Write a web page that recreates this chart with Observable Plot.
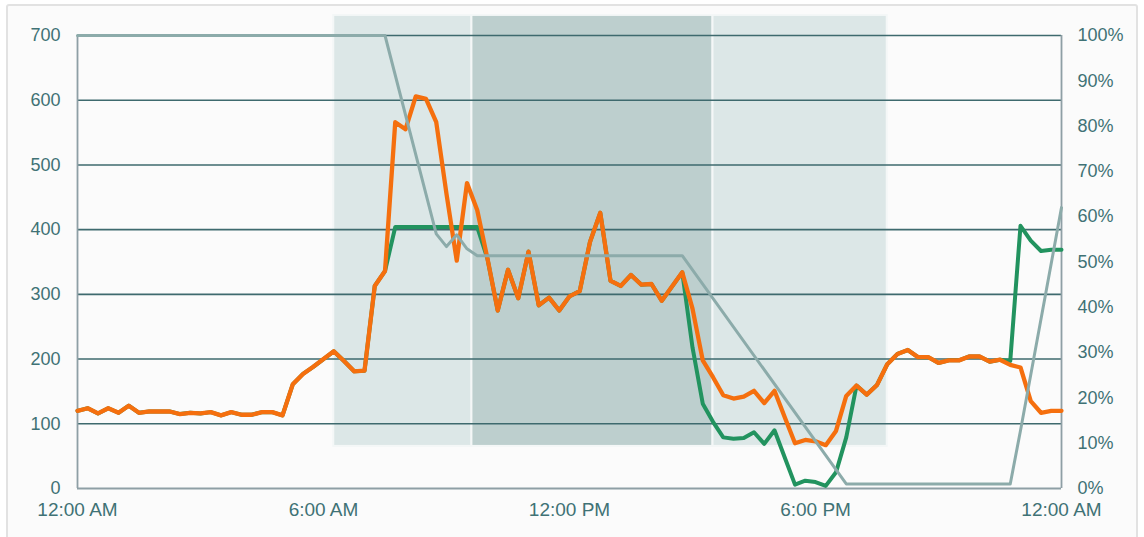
<!DOCTYPE html>
<html><head><meta charset="utf-8">
<script src="https://cdn.jsdelivr.net/npm/d3@7"></script>
<script src="https://cdn.jsdelivr.net/npm/@observablehq/plot@0.6"></script>
<style>
body{margin:0;background:#fff;}
#frame{position:absolute;left:6px;top:4px;width:1132px;height:540px;border:2px solid #e2e2e2;border-radius:3px;background:#fbfbfb;box-sizing:border-box;}
#chart{position:absolute;left:0;top:0;}
</style></head><body><div id="frame"></div><div id="chart"></div>
<script>
// 15-minute samples, index i -> i * 0.25 hours after midnight
const stepHours = 0.25;
const orangeValues = [120,124,116,124,117,128,117,119,119,119,115,117,116,118,113,118,114,114,118,118,113,161,177,188,200,212,197,181,182,313,336,566,555,606,602,566,455,352,472,430,355,275,338,294,366,283,295,275,297,305,381,426,321,313,330,315,316,290,312,334,278,198,172,144,139,142,151,132,151,110,70,75,73,67,89,143,159,145,160,192,208,214,203,203,194,198,198,204,204,196,199,191,187,135,117,120,120];
const greenValues = [120,124,116,124,117,128,117,119,119,119,115,117,116,118,113,118,114,114,118,118,113,161,177,188,200,212,197,181,182,313,336,404,404,404,404,404,404,404,404,404,355,275,338,294,366,283,295,275,297,305,381,426,321,313,330,315,316,290,312,334,218,131,103,79,77,78,87,69,90,48,6,12,10,4,25,79,159,145,160,192,208,214,203,203,194,198,198,204,204,196,199,197,406,383,367,369,369];
// percentage series (right axis), breakpoints
const pctHours  = [0,   7.5, 8.75, 9,    9.25, 9.5,  9.75, 14.75, 18.75, 22.75, 23,   24];
const pctValues = [100, 100, 56.2, 53.4, 56,   52.9, 51.4, 51.4,  1,     1,     12.8, 62];
// shaded periods
const bandStarts = [6.25, 9.62, 15.5];
const bandEnds   = [9.62, 15.5, 19.75];
const bandFills  = ["#dce7e7", "#bdcfce", "#dce7e7"];
const bandLow = 65, bandHigh = 731;
const leftTicks  = [0,100,200,300,400,500,600,700];
const gridTicks  = [100,200,300,400,500,600,700];
const rightTicks = [0,10,20,30,40,50,60,70,80,90,100];
const xTickHours  = [0,6,12,18,24];
const xTickLabels = ["12:00 AM","6:00 AM","12:00 PM","6:00 PM","12:00 AM"];

const pctScale = 7; // 100% == 700 on the left scale

const orange = orangeValues.map((v,i)=>({t:i*stepHours, v}));
const green  = greenValues.map((v,i)=>({t:i*stepHours, v}));
const pct    = pctHours.map((t,i)=>({t, v:pctValues[i]*pctScale}));
const bands  = bandStarts.map((s,i)=>({x1:s, x2:bandEnds[i], fill:bandFills[i]}));

const textColor = "#3f7275";
const chart = Plot.plot({
  width:1144, height:537,
  marginLeft:77, marginRight:83, marginTop:35, marginBottom:49,
  style:{fontFamily:"'Liberation Sans', Arial, sans-serif", fontSize:"18px", color:textColor, background:"transparent"},
  x:{type:"linear", domain:[0,24], axis:null, label:null},
  y:{domain:[0,700], axis:null, label:null},
  marks:[
    Plot.rectY(bands, {x1:"x1", x2:"x2", y1:bandLow, y2:bandHigh, fill:"fill", stroke:"#f4f7f7", strokeWidth:2}),
    Plot.ruleY(gridTicks, {stroke:"#3e6a6e", strokeWidth:1.6}),
    Plot.ruleY([0], {stroke:"#8e9fa5", strokeWidth:1.8}),
    Plot.ruleX([0,24], {y1:0, y2:700, stroke:"#8e9fa5", strokeWidth:1.8}),
    Plot.axisY({ticks:leftTicks, tickSize:0, tickPadding:17, anchor:"left", fill:textColor, label:null}),
    Plot.axisY({ticks:rightTicks.map(p=>p*pctScale), tickSize:0, tickPadding:16, anchor:"right", fill:textColor, label:null,
      tickFormat:d=>Math.round(d/pctScale)+"%"}),
    Plot.axisX({ticks:xTickHours, tickSize:0, tickPadding:14, anchor:"bottom", fill:textColor, label:null,
      fontSize:"19px", tickFormat:d=>xTickLabels[xTickHours.indexOf(d)]}),
    Plot.line(green, {x:"t", y:"v", stroke:"#22935f", strokeWidth:4, strokeLinejoin:"round"}),
    Plot.line(orange, {x:"t", y:"v", stroke:"#f56f0e", strokeWidth:4.3, strokeLinejoin:"round"}),
    Plot.line(pct, {x:"t", y:"v", stroke:"#8cabaa", strokeWidth:3, strokeLinejoin:"round"})
  ]
});
document.getElementById("chart").appendChild(chart);
</script></body></html>
